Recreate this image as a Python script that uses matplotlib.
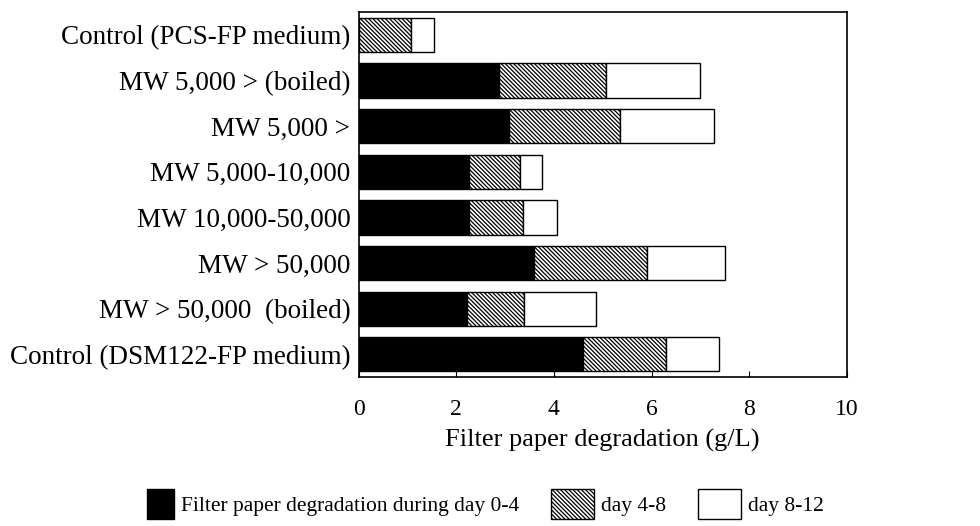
import matplotlib
matplotlib.use("Agg")
import matplotlib.pyplot as plt
import numpy as np
from matplotlib.patches import Patch, Rectangle
from matplotlib.legend_handler import HandlerPatch

# categories listed top to bottom as in the figure
categories = [
    "Control (PCS-FP medium)",
    "MW 5,000 > (boiled)",
    "MW 5,000 >",
    "MW 5,000-10,000",
    "MW 10,000-50,000",
    "MW > 50,000",
    "MW > 50,000  (boiled)",
    "Control (DSM122-FP medium)",
]
day_0_4 = [0.0, 2.88, 3.09, 2.27, 2.27, 3.60, 2.22, 4.60]
day_4_8 = [1.08, 2.18, 2.26, 1.04, 1.10, 2.31, 1.17, 1.69]
day_8_12 = [0.47, 1.93, 1.93, 0.45, 0.69, 1.59, 1.47, 1.09]

legend_labels = ["Filter paper degradation during day 0-4", "day 4-8", "day 8-12"]

plt.rcParams["font.family"] = ["Liberation Serif", "DejaVu Serif"]
plt.rcParams["hatch.linewidth"] = 0.9
HATCH = "\\" * 8


def narrow_box(legend, orig_handle, xdescent, ydescent, width, height, fontsize):
    # the solid key in the original is drawn narrower than the other two
    w = width * 0.62
    return Rectangle((width - w - xdescent, -ydescent), w, height)


fig = plt.figure(figsize=(9.8, 5.26), dpi=100)
ax = fig.add_axes([0.366, 0.283, 0.498, 0.694])

y = np.arange(len(categories))
d1 = np.array(day_0_4)
d2 = np.array(day_4_8)
d3 = np.array(day_8_12)
h = 0.75

ax.barh(y, d1, height=h, color="black", edgecolor="black", linewidth=1.0)
ax.barh(y, d2, left=d1, height=h, color="white", edgecolor="black",
        hatch=HATCH, linewidth=1.0)
ax.barh(y, d3, left=d1 + d2, height=h, color="white", edgecolor="black", linewidth=1.0)

ax.set_xlim(0, 10)
ax.set_ylim(len(categories) - 0.5, -0.5)
ax.set_yticks(y)
ax.set_yticklabels(categories, fontsize=19.5)
ax.set_xticks([0, 2, 4, 6, 8, 10])
ax.tick_params(axis="x", direction="in", length=4, labelsize=17, pad=16)
ax.tick_params(axis="y", length=0, pad=6)
for spine in ax.spines.values():
    spine.set_linewidth(1.2)
ax.set_xlabel("Filter paper degradation (g/L)", fontsize=19, labelpad=6)

black_key = Patch(facecolor="black", edgecolor="black")
handles = [
    black_key,
    Patch(facecolor="white", edgecolor="black", hatch=HATCH),
    Patch(facecolor="white", edgecolor="black"),
]
fig.legend(handles, legend_labels, loc="lower center", bbox_to_anchor=(0.487, -0.024),
           ncol=3, frameon=False, fontsize=15.5, handlelength=2.0, handleheight=1.8,
           handletextpad=0.3, columnspacing=1.5,
           handler_map={black_key: HandlerPatch(patch_func=narrow_box)})

fig.savefig("out.png", dpi=100)
